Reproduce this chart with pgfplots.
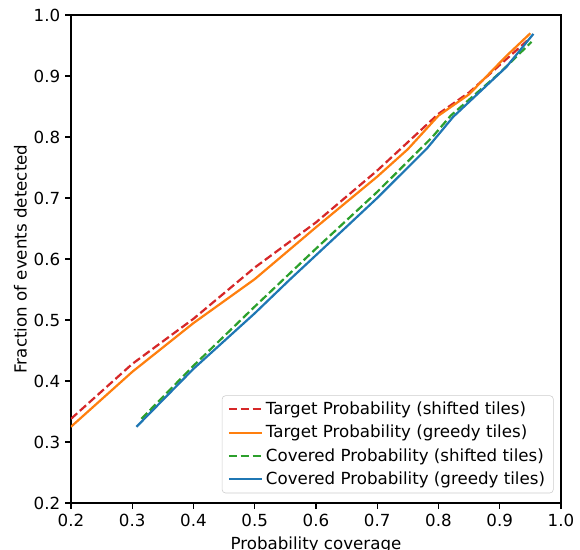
\documentclass[border=0pt]{standalone}
\usepackage{fontspec}
\setmainfont{DejaVu Sans}
\usepackage{pgfplots}
\pgfplotsset{compat=1.18}
\definecolor{tabred}{RGB}{214,39,40}
\definecolor{taborange}{RGB}{255,127,14}
\definecolor{tabgreen}{RGB}{44,160,44}
\definecolor{tabblue}{RGB}{31,119,180}

\begin{document}
\begin{tikzpicture}
\begin{axis}[
  scale only axis,
  width=352.8pt, height=351.4pt,
  xmin=0.2, xmax=1.0, ymin=0.2, ymax=1.0,
  xtick={0.2,0.3,...,1.0}, ytick={0.2,0.3,...,1.0},
  tick pos=left, tick align=outside,
  major tick length=4.2pt,
  axis line style={line width=0.9pt},
  every tick/.style={black, line width=0.9pt},
  /pgf/number format/.cd, fixed, fixed zerofill, precision=1, assume math mode=true,
  /pgfplots/.cd,
  tick label style={font=\fontsize{12}{14.4}\selectfont},
  label style={font=\fontsize{12}{14.4}\selectfont},
  xlabel={Probability coverage},
  ylabel={Fraction of events detected},
  xlabel style={yshift=-0.5pt},
  ylabel style={yshift=-2pt},
  legend style={at={(0.985,0.02)}, anchor=south east,
    draw=black!20, rounded corners=2.5pt, fill=white,
    font=\fontsize{12}{14.4}\selectfont, row sep=2.2pt,
    inner xsep=4pt, inner ysep=2.5pt},
  legend cell align=left,
  legend image code/.code={\draw[#1] (0pt,0pt) -- (24pt,0pt);},
  every axis plot/.append style={line width=1.6pt},
]

% Target Probability (shifted tiles)
\addplot[tabred, dash pattern=on 6pt off 2.6pt] coordinates {
  (0.2,0.338) (0.3,0.428) (0.4,0.502) (0.5,0.586) (0.6,0.660)
  (0.7,0.745) (0.8,0.838) (0.85,0.873) (0.9,0.918) (0.945,0.958)
};
\addlegendentry{Target Probability (shifted tiles)}

% Target Probability (greedy tiles)
\addplot[taborange] coordinates {
  (0.2,0.325) (0.3,0.415) (0.4,0.495) (0.5,0.567) (0.6,0.652)
  (0.7,0.735) (0.75,0.780) (0.8,0.835) (0.85,0.870) (0.91,0.932) (0.95,0.970)
};
\addlegendentry{Target Probability (greedy tiles)}

% Covered Probability (shifted tiles)
\addplot[tabgreen, dash pattern=on 6pt off 2.6pt] coordinates {
  (0.315,0.338) (0.4,0.425) (0.5,0.522) (0.6,0.617)
  (0.7,0.710) (0.79,0.800) (0.82,0.835) (0.9,0.905) (0.952,0.956)
};
\addlegendentry{Covered Probability (shifted tiles)}

% Covered Probability (greedy tiles)
\addplot[tabblue] coordinates {
  (0.307,0.325) (0.4,0.420) (0.5,0.511) (0.557,0.566) (0.65,0.653)
  (0.7,0.700) (0.781,0.781) (0.824,0.833) (0.911,0.915) (0.955,0.969)
};
\addlegendentry{Covered Probability (greedy tiles)}

\end{axis}
\pgfresetboundingbox
\path[use as bounding box] ([xshift=-51.1pt,yshift=-33.8pt]current axis.south west)
  rectangle ([xshift=13.7pt,yshift=10.8pt]current axis.north east);
\end{tikzpicture}
\end{document}
